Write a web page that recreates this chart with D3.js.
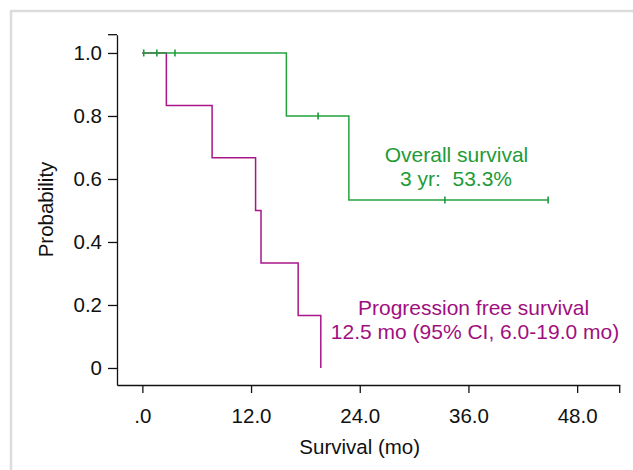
<!DOCTYPE html>
<html><head><meta charset="utf-8">
<script src="https://cdn.jsdelivr.net/npm/d3@7"></script>
<style>
html,body{margin:0;padding:0;background:#fff;}
svg{display:block;font-family:"Liberation Sans",Arial,sans-serif;}
</style></head>
<body>
<svg id="chart" width="633" height="470"></svg>
<script>
// ---- data ----
const osTime = [0, 15.9, 22.8, 44.8];
const osSurv = [1.0, 0.8, 0.533, 0.533];
const osCensorTime = [0.15, 1.6, 3.6, 19.4, 33.4, 44.8];
const osCensorSurv = [1.0, 1.0, 1.0, 0.8, 0.533, 0.533];
const pfsTime = [0, 2.65, 7.7, 12.5, 13.1, 17.2, 19.7];
const pfsSurv = [1.0, 0.833, 0.667, 0.5, 0.333, 0.167, 0];
const xTicks = [0, 12, 24, 36, 48];
const xTickLabels = [".0", "12.0", "24.0", "36.0", "48.0"];
const yTicks = [0, 0.2, 0.4, 0.6, 0.8, 1.0];
const yTickLabels = ["0", "0.2", "0.4", "0.6", "0.8", "1.0"];
const osLabel = ["Overall survival", "3 yr:  53.3%"];
const pfsLabel = ["Progression free survival", "12.5 mo (95% CI, 6.0-19.0 mo)"];

const green = "#23a23d", greenText = "#1d9b39";
const magenta = "#a8168a", magentaText = "#a00f7f";

const svg = d3.select("#chart");
// frame
svg.append("rect").attr("x", 11).attr("y", 11).attr("width", 700).attr("height", 600)
  .attr("fill", "none").attr("stroke", "#dcdcdc").attr("stroke-width", 2.5);

const x = d3.scaleLinear().domain([-2.8, 52.7]).range([117, 619.7]);
const y = d3.scaleLinear().domain([-0.054, 1.058]).range([385, 34.7]);

// axes
const xAxis = d3.axisBottom(x).tickValues(xTicks)
  .tickFormat((d, i) => xTickLabels[i]).tickSize(8).tickSizeOuter(0).tickPadding(15);
const gx = svg.append("g").attr("transform", `translate(0,${y.range()[0]})`).call(xAxis);
const yAxis = d3.axisLeft(y).tickValues(yTicks)
  .tickFormat((d, i) => yTickLabels[i]).tickSize(9).tickSizeOuter(0).tickPadding(6);
const gy = svg.append("g").attr("transform", `translate(${x.range()[0]},0)`).call(yAxis);
[gx, gy].forEach(g => {
  g.selectAll("path,line").attr("stroke", "#111").attr("stroke-width", 1.3);
  g.selectAll("text").attr("font-size", 20.5).attr("fill", "#111")
    .attr("font-family", "'Liberation Sans',Arial,sans-serif");
});
// end brackets
svg.append("line").attr("x1", x.range()[0] - 9).attr("x2", x.range()[0])
  .attr("y1", y.range()[1]).attr("y2", y.range()[1]).attr("stroke", "#111").attr("stroke-width", 1.3);
svg.append("line").attr("x1", x.range()[1]).attr("x2", x.range()[1])
  .attr("y1", y.range()[0]).attr("y2", y.range()[0] + 8).attr("stroke", "#111").attr("stroke-width", 1.3);

// axis titles
svg.append("text").attr("x", (x(0) + x(48)) / 2).attr("y", 454).attr("text-anchor", "middle")
  .attr("font-size", 20.5).attr("fill", "#111").text("Survival (mo)");
svg.append("text").attr("transform", `translate(52.5,${(y(0) + y(1)) / 2 - 1}) rotate(-90)`)
  .attr("text-anchor", "middle").attr("font-size", 20.5).attr("fill", "#111").text("Probability");

// curves
const line = d3.line().x(d => x(d[0])).y(d => y(d[1])).curve(d3.curveStepAfter);
svg.append("path").datum(pfsTime.map((t, i) => [t, pfsSurv[i]]))
  .attr("d", line).attr("fill", "none").attr("stroke", magenta).attr("stroke-width", 1.5);
svg.append("path").datum(osTime.map((t, i) => [t, osSurv[i]]))
  .attr("d", line).attr("fill", "none").attr("stroke", green).attr("stroke-width", 1.5);
svg.selectAll("line.censor").data(osCensorTime).enter().append("line")
  .attr("class", "censor")
  .attr("x1", d => x(d)).attr("x2", d => x(d))
  .attr("y1", (d, i) => y(osCensorSurv[i]) - 3.5).attr("y2", (d, i) => y(osCensorSurv[i]) + 3.5)
  .attr("stroke", "#1f9a3a").attr("stroke-width", 1.6);

// annotations
const osT = svg.append("text").attr("text-anchor", "middle").attr("font-size", 21)
  .attr("fill", greenText).style("white-space", "pre");
osT.append("tspan").attr("x", 456.5).attr("y", 161.5).text(osLabel[0]);
osT.append("tspan").attr("x", 456).attr("y", 185.5).text(osLabel[1]);
const pT = svg.append("text").attr("text-anchor", "middle").attr("font-size", 21)
  .attr("fill", magentaText).style("white-space", "pre");
pT.append("tspan").attr("x", 473.5).attr("y", 315).text(pfsLabel[0]);
pT.append("tspan").attr("x", 475).attr("y", 338.5).text(pfsLabel[1]);
</script>
</body></html>
